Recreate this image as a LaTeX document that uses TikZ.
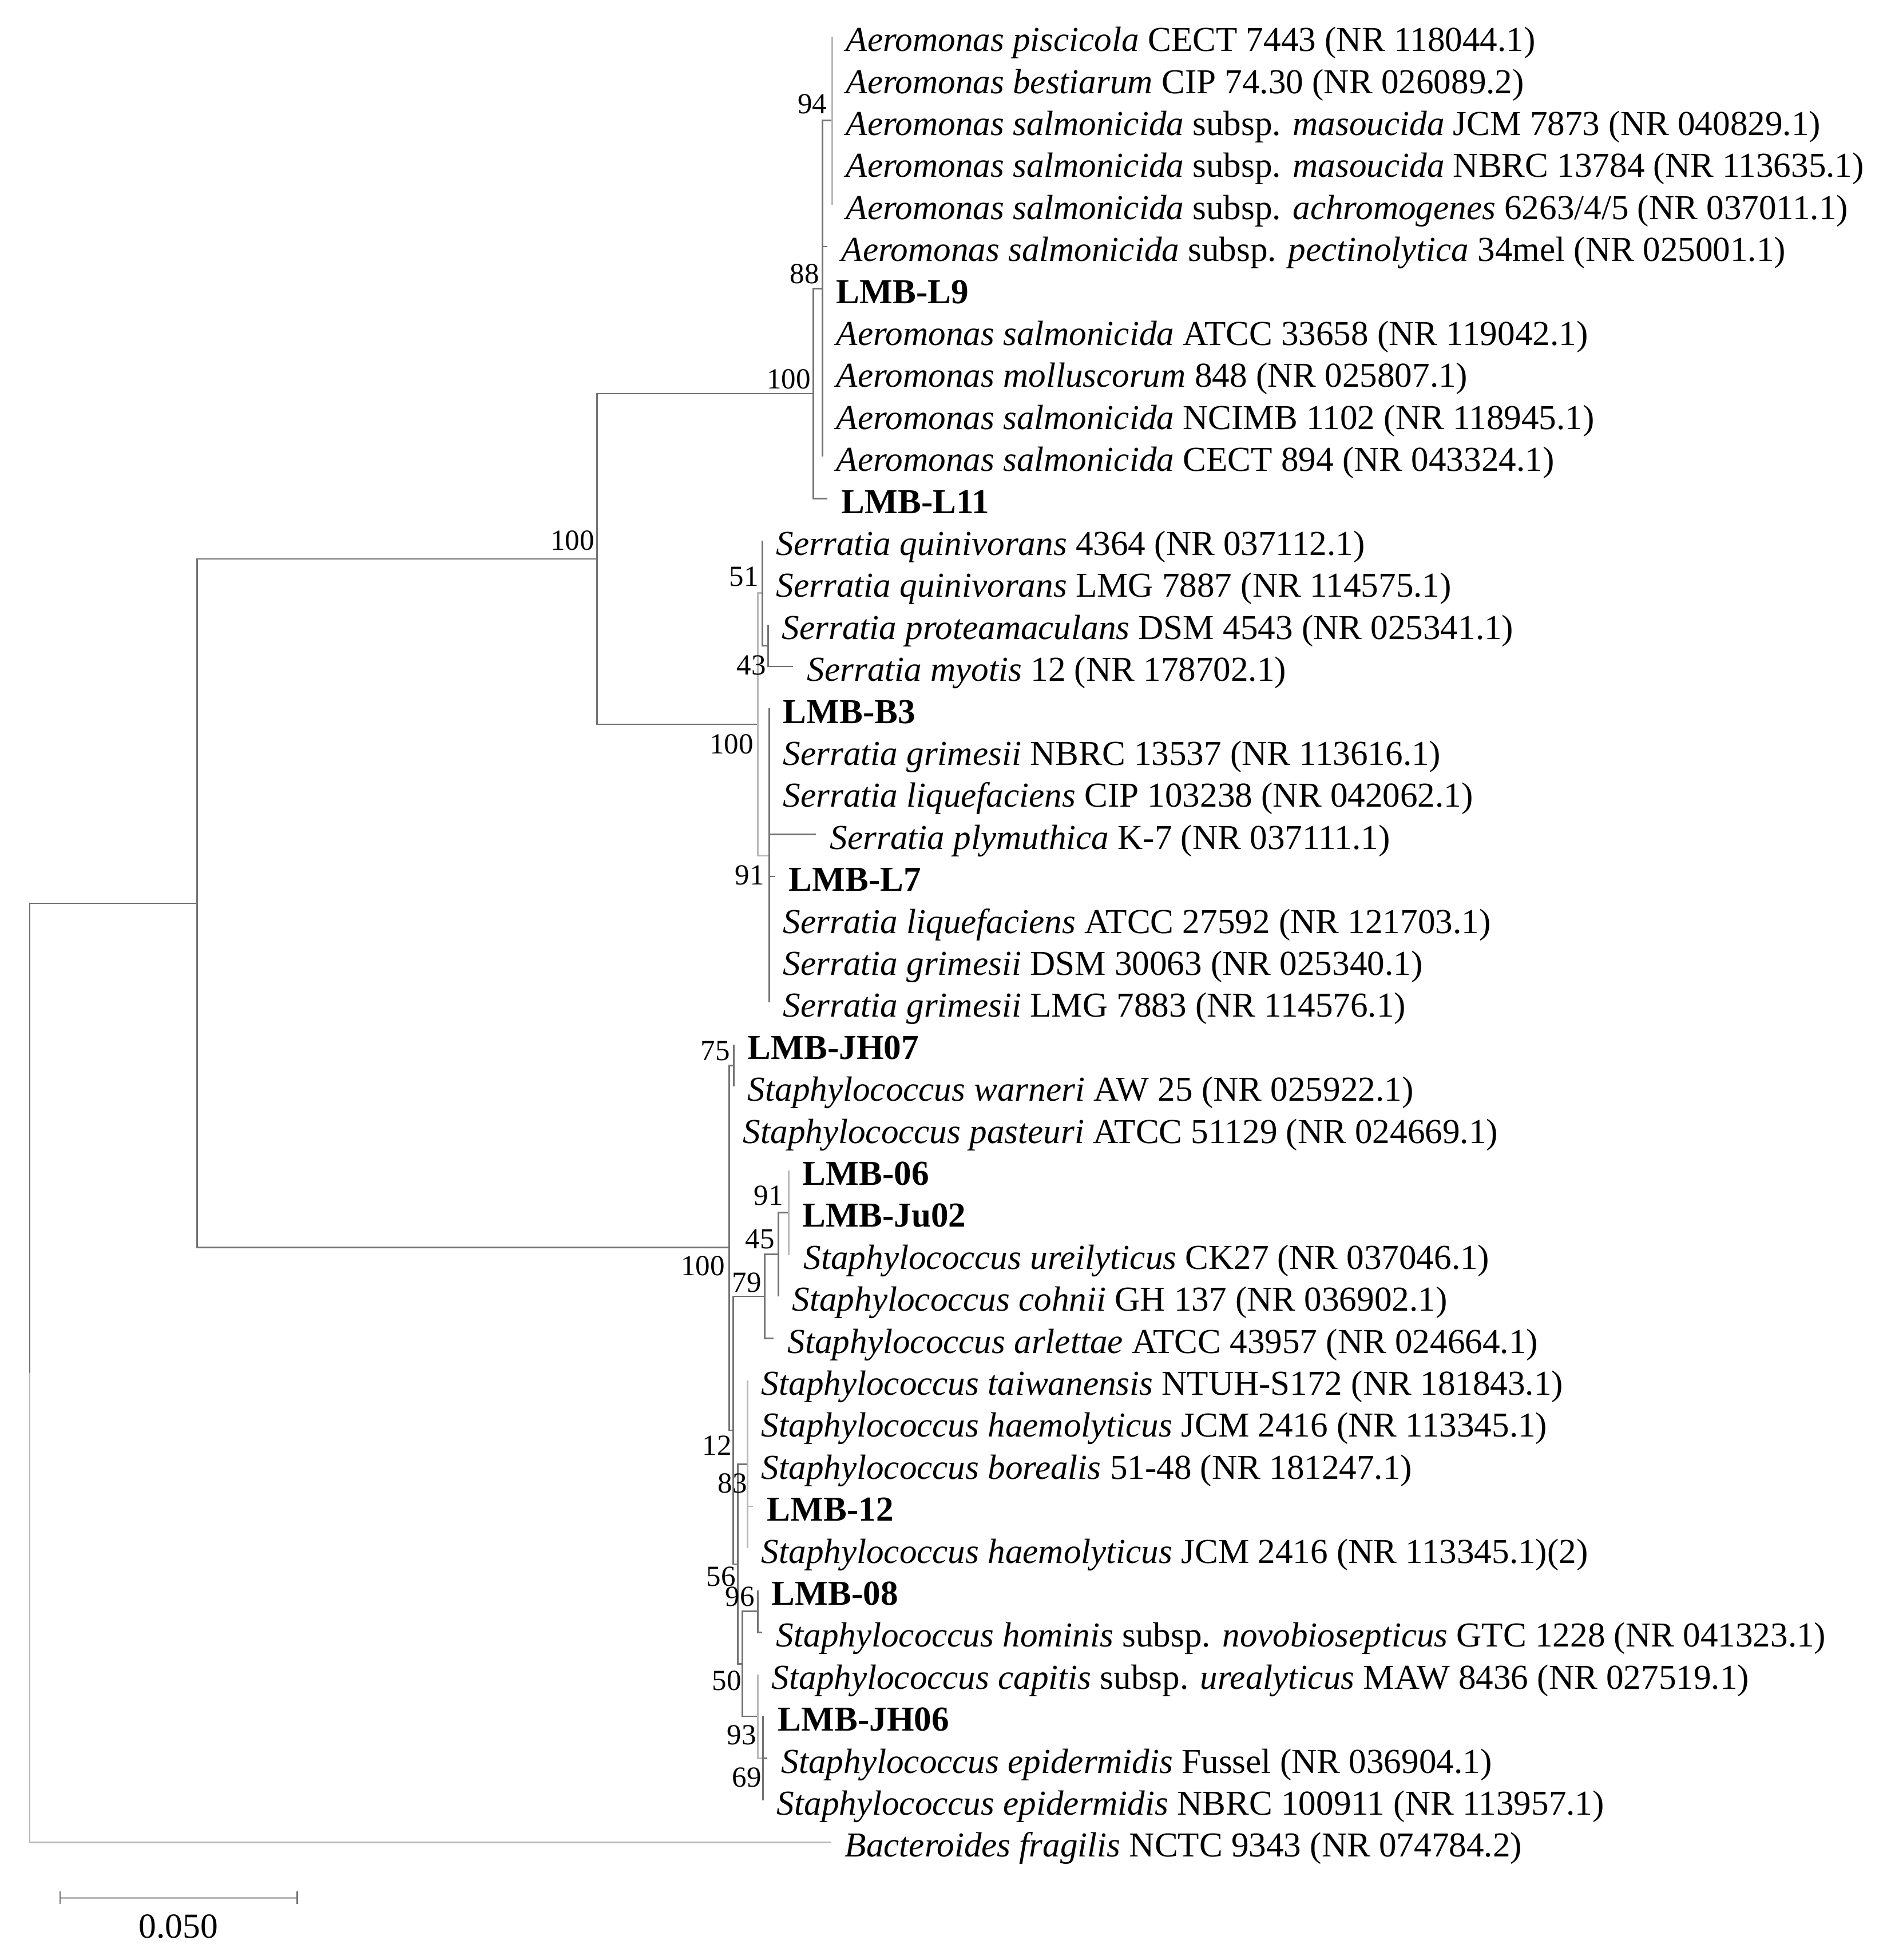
\documentclass[tikz,border=0pt]{standalone}
\usepackage{fontspec}
\setmainfont{Liberation Serif}
\tikzset{
  branch/.style={draw=black!55, line width=0.8pt},
  pale/.style={draw=black!28, line width=0.8pt},
  leaf/.style={anchor=west, inner xsep=6.8pt, inner ysep=0pt, text height=14.6pt, text depth=0pt, font=\fontsize{17.4}{20}\selectfont},
  boot/.style={anchor=east, inner sep=0pt, text depth=0pt, font=\fontsize{14.5}{17}\selectfont},
}
\begin{document}
\begin{tikzpicture}[x=0.01cm, y=-0.734cm]
  \useasboundingbox (0,-0.872) rectangle (3306,45.804);
  % 1. internal nodes
  \coordinate (root) at (52,31.82);
  \coordinate (nI) at (345,20.64);
  \coordinate (nB) at (1044,12.4375);
  \coordinate (nAer) at (1422,8.5);
  \coordinate (n88) at (1438,6);
  \coordinate (n94) at (1455,2);
  \coordinate (nSer) at (1325,16.375);
  \coordinate (n51) at (1333,13.25);
  \coordinate (n43) at (1343,14.5);
  \coordinate (n91a) at (1345,19.5);
  \coordinate (nS) at (1275,28.84);
  \coordinate (n75) at (1283,24.5);
  \coordinate (n12) at (1282,33.1875);
  \coordinate (n79) at (1337,30);
  \coordinate (n45) at (1361,29);
  \coordinate (n91b) at (1379,28);
  \coordinate (n56) at (1290,36.375);
  \coordinate (n83) at (1307,34);
  \coordinate (n50) at (1298,38.75);
  \coordinate (n96) at (1325,37.5);
  \coordinate (n93) at (1325,40);
  \coordinate (n69) at (1334,41);

  % 2. taxa
  \node[leaf] (l1) at (1455,0) {\textit{Aeromonas piscicola} CECT 7443 (NR 118044.1)};
  \node[leaf] (l2) at (1455,1) {\textit{Aeromonas bestiarum} CIP 74.30 (NR 026089.2)};
  \node[leaf] (l3) at (1455,2) {\textit{Aeromonas salmonicida} subsp. \textit{masoucida} JCM 7873 (NR 040829.1)};
  \node[leaf] (l4) at (1455,3) {\textit{Aeromonas salmonicida} subsp. \textit{masoucida} NBRC 13784 (NR 113635.1)};
  \node[leaf] (l5) at (1455,4) {\textit{Aeromonas salmonicida} subsp. \textit{achromogenes} 6263/4/5 (NR 037011.1)};
  \node[leaf] (l6) at (1447,5) {\textit{Aeromonas salmonicida} subsp. \textit{pectinolytica} 34mel (NR 025001.1)};
  \node[leaf] (l7) at (1438,6) {\textbf{LMB-L9}};
  \node[leaf] (l8) at (1438,7) {\textit{Aeromonas salmonicida} ATCC 33658 (NR 119042.1)};
  \node[leaf] (l9) at (1438,8) {\textit{Aeromonas molluscorum} 848 (NR 025807.1)};
  \node[leaf] (l10) at (1438,9) {\textit{Aeromonas salmonicida} NCIMB 1102 (NR 118945.1)};
  \node[leaf] (l11) at (1438,10) {\textit{Aeromonas salmonicida} CECT 894 (NR 043324.1)};
  \node[leaf] (l12) at (1447,11) {\textbf{LMB-L11}};
  \node[leaf] (l13) at (1333,12) {\textit{Serratia quinivorans} 4364 (NR 037112.1)};
  \node[leaf] (l14) at (1333,13) {\textit{Serratia quinivorans} LMG 7887 (NR 114575.1)};
  \node[leaf] (l15) at (1343,14) {\textit{Serratia proteamaculans} DSM 4543 (NR 025341.1)};
  \node[leaf] (l16) at (1387,15) {\textit{Serratia myotis} 12 (NR 178702.1)};
  \node[leaf] (l17) at (1345,16) {\textbf{LMB-B3}};
  \node[leaf] (l18) at (1345,17) {\textit{Serratia grimesii} NBRC 13537 (NR 113616.1)};
  \node[leaf] (l19) at (1345,18) {\textit{Serratia liquefaciens} CIP 103238 (NR 042062.1)};
  \node[leaf] (l20) at (1427,19) {\textit{Serratia plymuthica} K-7 (NR 037111.1)};
  \node[leaf] (l21) at (1355,20) {\textbf{LMB-L7}};
  \node[leaf] (l22) at (1345,21) {\textit{Serratia liquefaciens} ATCC 27592 (NR 121703.1)};
  \node[leaf] (l23) at (1345,22) {\textit{Serratia grimesii} DSM 30063 (NR 025340.1)};
  \node[leaf] (l24) at (1345,23) {\textit{Serratia grimesii} LMG 7883 (NR 114576.1)};
  \node[leaf] (l25) at (1283,24) {\textbf{LMB-JH07}};
  \node[leaf] (l26) at (1283,25) {\textit{Staphylococcus warneri} AW 25 (NR 025922.1)};
  \node[leaf] (l27) at (1275,26) {\textit{Staphylococcus pasteuri} ATCC 51129 (NR 024669.1)};
  \node[leaf] (l28) at (1379,27) {\textbf{LMB-06}};
  \node[leaf] (l29) at (1379,28) {\textbf{LMB-Ju02}};
  \node[leaf] (l30) at (1381,29) {\textit{Staphylococcus ureilyticus} CK27 (NR 037046.1)};
  \node[leaf] (l31) at (1361,30) {\textit{Staphylococcus cohnii} GH 137 (NR 036902.1)};
  \node[leaf] (l32) at (1353,31) {\textit{Staphylococcus arlettae} ATCC 43957 (NR 024664.1)};
  \node[leaf] (l33) at (1307,32) {\textit{Staphylococcus taiwanensis} NTUH-S172 (NR 181843.1)};
  \node[leaf] (l34) at (1307,33) {\textit{Staphylococcus haemolyticus} JCM 2416 (NR 113345.1)};
  \node[leaf] (l35) at (1307,34) {\textit{Staphylococcus borealis} 51-48 (NR 181247.1)};
  \node[leaf] (l36) at (1317,35) {\textbf{LMB-12}};
  \node[leaf] (l37) at (1307,36) {\textit{Staphylococcus haemolyticus} JCM 2416 (NR 113345.1)(2)};
  \node[leaf] (l38) at (1325,37) {\textbf{LMB-08}};
  \node[leaf] (l39) at (1333,38) {\textit{Staphylococcus hominis} subsp. \textit{novobiosepticus} GTC 1228 (NR 041323.1)};
  \node[leaf] (l40) at (1325,39) {\textit{Staphylococcus capitis} subsp. \textit{urealyticus} MAW 8436 (NR 027519.1)};
  \node[leaf] (l41) at (1336,40) {\textbf{LMB-JH06}};
  \node[leaf] (l42) at (1342,41) {\textit{Staphylococcus epidermidis} Fussel (NR 036904.1)};
  \node[leaf] (l43) at (1334,42) {\textit{Staphylococcus epidermidis} NBRC 100911 (NR 113957.1)};
  \node[leaf] (l44) at (1453,43) {\textit{Bacteroides fragilis} NCTC 9343 (NR 074784.2)};

  % 3. branches
  \draw[branch] (root) |- (nI);
  \draw[pale] (root) |- (l44.west);
  \draw[branch] (nI) |- (nB) (nI) |- (nS);
  \draw[branch] (nB) |- (nAer) (nB) |- (nSer);
  \draw[branch] (nAer) |- (n88) (nAer) |- (l12.west);
  \draw[branch] (n88) |- (n94);
  \foreach \i in {6,...,11} \draw[branch] (n88) |- (l\i.west);
  \foreach \i in {1,...,5} \draw[pale] (n94) |- (l\i.west);
  \draw[pale] (nSer) |- (n51) (nSer) |- (n91a);
  \draw[branch] (n51) |- (l13.west) (n51) |- (l14.west) (n51) |- (n43);
  \draw[branch] (n43) |- (l15.west) (n43) |- (l16.west);
  \foreach \i in {17,...,24} \draw[branch] (n91a) |- (l\i.west);
  \draw[branch] (nS) |- (n75) (nS) |- (l27.west) (nS) |- (n12);
  \draw[branch] (n75) |- (l25.west) (n75) |- (l26.west);
  \draw[branch] (n12) |- (n79) (n12) |- (n56);
  \draw[branch] (n79) |- (n45) (n79) |- (l32.west);
  \draw[branch] (n45) |- (n91b) (n45) |- (l31.west);
  \foreach \i in {28,29,30} \draw[pale] (n91b) |- (l\i.west);
  \draw[branch] (n56) |- (n83) (n56) |- (n50);
  \foreach \i in {33,...,37} \draw[pale] (n83) |- (l\i.west);
  \draw[branch] (n50) |- (n96) (n50) |- (n93);
  \draw[branch] (n96) |- (l38.west) (n96) |- (l39.west);
  \draw[pale] (n93) |- (l40.west) (n93) |- (n69);
  \foreach \i in {41,42,43} \draw[branch] (n69) |- (l\i.west);

  % 4. bootstrap values
  \node[boot] (b94) at (1447,1.6) {94};
  \node[boot] (b88) at (1433,5.65) {88};
  \node[boot] (bAer) at (1418,8.15) {100};
  \node[boot] (bB) at (1040,11.99) {100};
  \node[boot] (b51) at (1327,12.85) {51};
  \node[boot] (b43) at (1340,14.97) {43};
  \node[boot] (bSer) at (1318,16.85) {100};
  \node[boot] (b91a) at (1337,19.97) {91};
  \node[boot] (b75) at (1277,24.15) {75};
  \node[boot] (b91b) at (1370,27.6) {91};
  \node[boot] (b45) at (1355,28.63) {45};
  \node[boot] (bS) at (1268,29.27) {100};
  \node[boot] (b79) at (1332,29.67) {79};
  \node[boot] (b12) at (1280,33.55) {12};
  \node[boot] (b83) at (1307,34.45) {83};
  \node[boot] (b56) at (1287,36.67) {56};
  \node[boot] (b96) at (1320,37.15) {96};
  \node[boot] (b50) at (1297,39.15) {50};
  \node[boot] (b93) at (1323,40.45) {93};
  \node[boot] (b69) at (1332,41.45) {69};

  % 5. scale bar
  \coordinate (sbL) at (105,44.32);
  \coordinate (sbR) at (520,44.32);
  \draw[pale] (sbL) -- (sbR);
  \draw[branch] ([yshift=3.1pt]sbL) -- ([yshift=-3.1pt]sbL);
  \draw[branch] ([yshift=3.1pt]sbR) -- ([yshift=-3.1pt]sbR);
  \node[inner sep=0pt, text depth=0pt, font=\fontsize{17.5}{20}\selectfont] (sbtext) at (312,45.0) {0.050};
\end{tikzpicture}
\end{document}
